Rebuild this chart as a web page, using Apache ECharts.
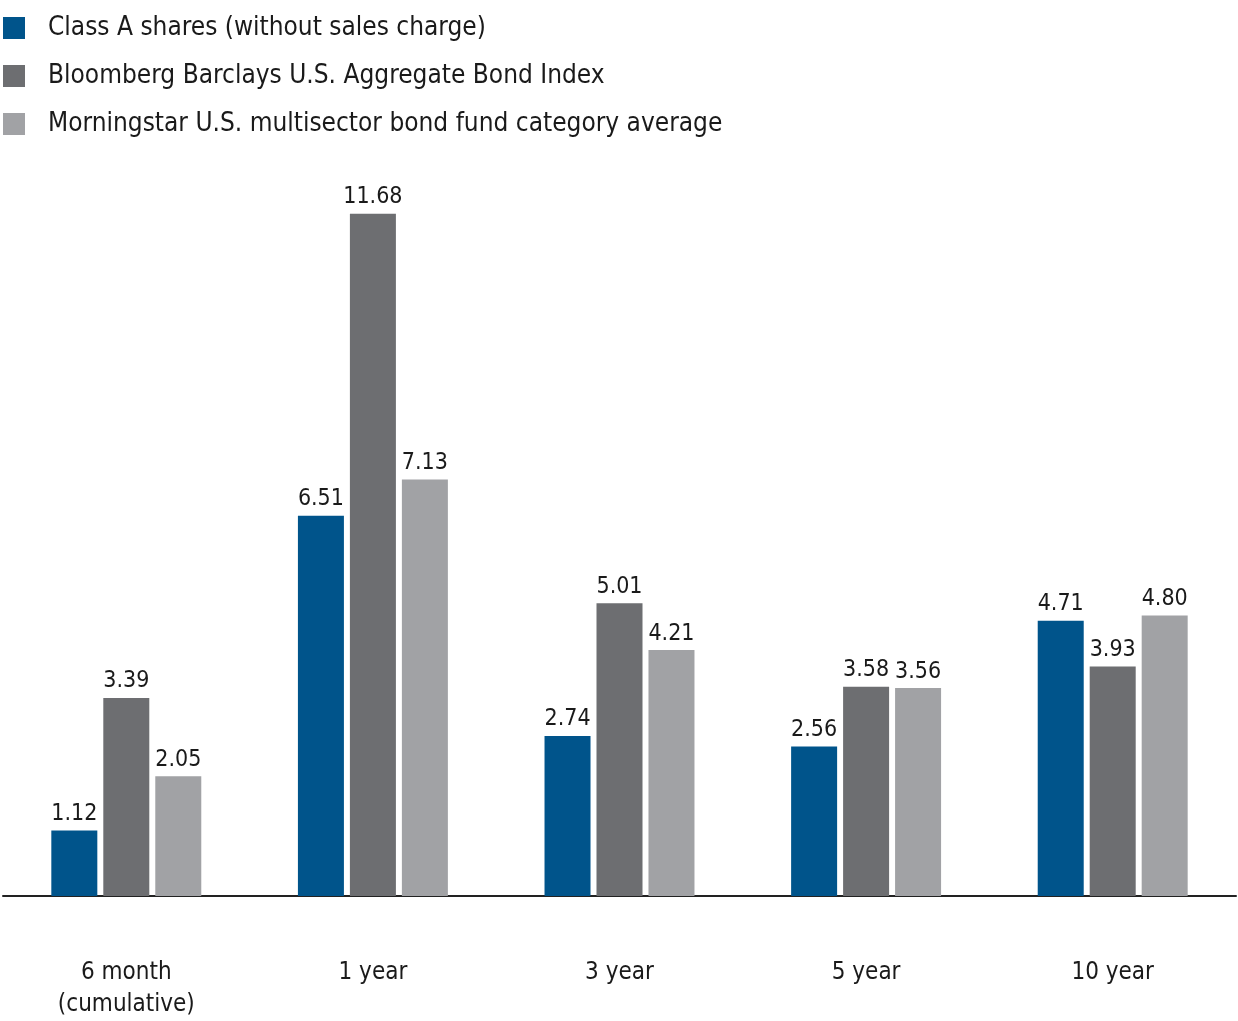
<!DOCTYPE html>
<html><head><meta charset="utf-8">
<script src="https://cdn.jsdelivr.net/npm/echarts@6/dist/echarts.min.js"></script>
<style>html,body{margin:0;padding:0;background:#fff}#c{width:1238px;height:1021px}</style>
</head><body><div id="c"></div>
<script>
const categories = ['6 month\n(cumulative)', '1 year', '3 year', '5 year', '10 year'];
const seriesNames = ['Class A shares (without sales charge)', 'Bloomberg Barclays U.S. Aggregate Bond Index', 'Morningstar U.S. multisector bond fund category average'];
const classA = [1.12, 6.51, 2.74, 2.56, 4.71];
const bloomberg = [3.39, 11.68, 5.01, 3.58, 3.93];
const morningstar = [2.05, 7.13, 4.21, 3.56, 4.80];
const colors = ['#00548B', '#6D6E71', '#A1A2A5'];
const FONT = '"Liberation Sans Narrow", "DejaVu Sans Condensed", "Open Sans", sans-serif';

const chart = echarts.init(document.getElementById('c'), null, {renderer: 'canvas'});
const mk = (name, data, color) => ({
  name, type: 'bar', data, barWidth: 46, barGap: '13%',
  itemStyle: {color},
  label: {show: true, position: 'top', distance: 5, color: '#1a1a1a', fontFamily: FONT, fontSize: 23,
    formatter: p => p.value.toFixed(2)}
});
chart.setOption({
  animation: false,
  color: colors,
  legend: {
    orient: 'vertical', left: 3, top: 14, padding: 0, itemWidth: 22, itemHeight: 22, itemGap: 20,
    icon: 'rect',
    textStyle: {fontFamily: FONT, fontSize: 26, lineHeight: 28, color: '#1a1a1a', padding: [0, 0, 0, 18]},
    data: seriesNames
  },
  grid: {left: 3, right: 2, top: 195, bottom: 125},
  xAxis: {
    type: 'category', data: categories,
    axisLine: {lineStyle: {color: '#222', width: 2}},
    axisTick: {show: false},
    axisLabel: {fontFamily: FONT, fontSize: 24, color: '#1a1a1a', margin: 61, lineHeight: 32}
  },
  yAxis: {type: 'value', min: 0, max: 12, show: false, splitLine: {show: false}},
  series: [mk(seriesNames[0], classA, colors[0]), mk(seriesNames[1], bloomberg, colors[1]), mk(seriesNames[2], morningstar, colors[2])]
});
</script></body></html>
